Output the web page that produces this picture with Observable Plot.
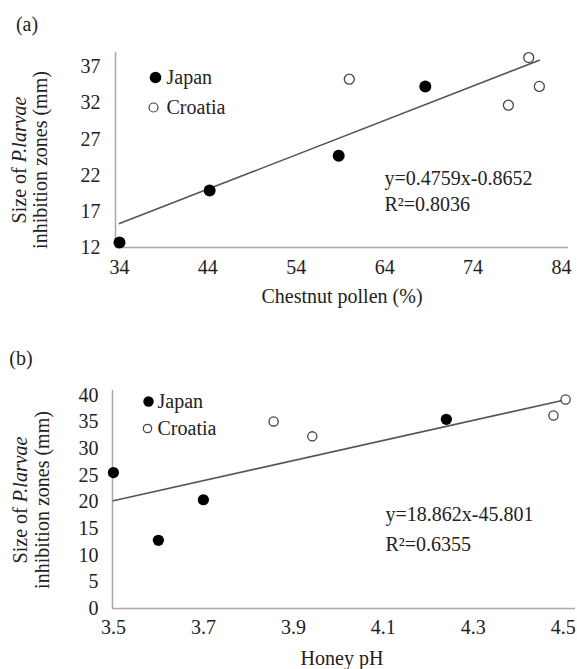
<!DOCTYPE html>
<html><head><meta charset="utf-8">
<script src="https://cdn.jsdelivr.net/npm/d3@7"></script>
<script src="https://cdn.jsdelivr.net/npm/@observablehq/plot@0.6"></script>
<style>
body{margin:0;background:#fff;}
#chart{width:577px;height:669px;position:relative;}
svg{display:block;overflow:visible;}
#chart svg, #chart svg text{font-family:'Liberation Serif','Times New Roman',serif !important;}
</style></head><body><div id="chart"></div>
<script>
const FONT = "Liberation Serif";
const INK = "#222";
const FS = 20;

// ---- Panel (a): chestnut pollen vs inhibition zone ----
const seriesNames = ["Japan", "Croatia"];
const pollenJapan   = [34.0, 44.2, 58.8, 68.6];
const zoneJapanA    = [12.7, 19.9, 24.7, 34.3];
const pollenCroatia = [60.0, 80.3, 81.5, 78.0];
const zoneCroatiaA  = [35.3, 38.3, 34.3, 31.7];
const xTicksA = [34, 44, 54, 64, 74, 84];
const yTicksA = [12, 17, 22, 27, 32, 37];
const slopeA = 0.4759, interceptA = -0.8652, r2A = "0.8036";

// ---- Panel (b): honey pH vs inhibition zone ----
const phJapan   = [3.50, 3.60, 3.70, 4.24];
const zoneJapanB = [25.5, 12.8, 20.4, 35.5];
const phCroatia = [3.856, 3.942, 4.478, 4.505];
const zoneCroatiaB = [35.1, 32.3, 36.2, 39.2];
const xTicksB = [3.5, 3.7, 3.9, 4.1, 4.3, 4.5];
const yTicksB = [0, 5, 10, 15, 20, 25, 30, 35, 40];
const slopeB = 18.862, interceptB = -45.801, r2B = "0.6355";

const toRows = (xs, ys) => xs.map((x, i) => ({x, y: ys[i]}));
const trend = (xs, m, b) => {
  const lo = d3.min(xs), hi = d3.max(xs);
  return [{x: lo, y: m * lo + b}, {x: hi, y: m * hi + b}];
};
const fmtEq = (m, b) => `y=${m}x${b < 0 ? "-" : "+"}${Math.abs(b)}`;

function panel(cfg) {
  const japan = toRows(cfg.xJ, cfg.yJ);
  const croatia = toRows(cfg.xC, cfg.yC);
  const allX = cfg.xJ.concat(cfg.xC);
  const T = {fontFamily: FONT, fontSize: FS, fill: INK};
  const svg = Plot.plot({
    width: 577, height: cfg.height,
    marginLeft: cfg.ml, marginTop: cfg.mt, marginBottom: cfg.mb, marginRight: cfg.mr,
    style: {fontFamily: FONT, fontSize: FS + "px", color: INK, background: "white", overflow: "visible"},
    x: {domain: cfg.xDomain},
    y: {domain: cfg.yDomain},
    marks: [
      Plot.ruleX([cfg.xDomain[0]], {stroke: "#a8a8a8", strokeWidth: 1.5}),
      Plot.ruleY([cfg.yDomain[0]], {stroke: "#a8a8a8", strokeWidth: 1.5}),
      Plot.axisX(cfg.xTicks, {...T, tickSize: 0, tickPadding: cfg.xPad, label: null, tickFormat: cfg.xFmt}),
      Plot.axisY(cfg.yTicks, {...T, tickSize: 0, tickPadding: cfg.yPad, label: null}),
      Plot.line(trend(allX, cfg.m, cfg.b), {x: "x", y: "y", stroke: "#555", strokeWidth: 1.6}),
      Plot.dot(croatia, {x: "x", y: "y", r: cfg.rC, fill: "white", stroke: "#444", strokeWidth: 1.3}),
      Plot.dot(japan, {x: "x", y: "y", r: cfg.rJ, fill: "black"}),
      // legend
      Plot.dot([seriesNames[0]], {frameAnchor: "top-left", dx: cfg.lg.dotJ[0], dy: cfg.lg.dotJ[1], r: cfg.lg.rJ, fill: "black"}),
      Plot.dot([seriesNames[1]], {frameAnchor: "top-left", dx: cfg.lg.dotC[0], dy: cfg.lg.dotC[1], r: cfg.lg.rC, fill: "white", stroke: "#444", strokeWidth: 1.2}),
      Plot.text([seriesNames[0]], {...T, text: d => d, frameAnchor: "top-left", dx: cfg.lg.tx, dy: cfg.lg.dotJ[1], textAnchor: "start", lineAnchor: "middle"}),
      Plot.text([seriesNames[1]], {...T, text: d => d, frameAnchor: "top-left", dx: cfg.lg.tx, dy: cfg.lg.dotC[1], textAnchor: "start", lineAnchor: "middle"}),
      // equation
      Plot.text([fmtEq(cfg.m, cfg.b)], {...T, text: d => d, frameAnchor: "top-left", dx: cfg.eq[0], dy: cfg.eq[1], textAnchor: "start", lineAnchor: "bottom"}),
      Plot.text([`R²=${cfg.r2}`], {...T, text: d => d, frameAnchor: "top-left", dx: cfg.eq[0], dy: cfg.eq[2], textAnchor: "start", lineAnchor: "bottom"})
    ]
  });
  const s = d3.select(svg);
  const txt = () => s.append("text").attr("fill", INK).attr("font-size", FS).attr("font-family", FONT);
  txt().attr("x", cfg.tag[0]).attr("y", cfg.tag[1]).text(cfg.tagText);
  txt().attr("x", cfg.xt[0]).attr("y", cfg.xt[1]).attr("text-anchor", "middle").text(cfg.xTitle);
  const t1 = txt().attr("transform", `translate(${cfg.yt[0]},${cfg.yt[2]}) rotate(-90)`).attr("text-anchor", "middle");
  t1.append("tspan").text("Size of ");
  t1.append("tspan").attr("font-style", "italic").text("P.larvae");
  txt().attr("transform", `translate(${cfg.yt[1]},${cfg.yt[2]}) rotate(-90)`).attr("text-anchor", "middle").text("inhibition zones (mm)");
  return svg;
}

const root = document.getElementById("chart");
root.appendChild(panel({
  height: 330, ml: 115, mt: 52, mb: 83, mr: 9,
  xDomain: [33.55, 84.8], yDomain: [12, 39],
  xTicks: xTicksA, yTicks: yTicksA, xFmt: d3.format("d"), xPad: 12, yPad: 15,
  xJ: pollenJapan, yJ: zoneJapanA, xC: pollenCroatia, yC: zoneCroatiaA,
  m: slopeA, b: interceptA, r2: r2A, rJ: 6, rC: 5,
  lg: {dotJ: [40, 25], dotC: [38, 55], rJ: 5.8, rC: 4.5, tx: 51},
  eq: [269, 132, 158],
  tag: [27, 31], tagText: "(a)",
  xt: [342, 303], xTitle: "Chestnut pollen (%)",
  yt: [26, 47, 160]
}));
root.appendChild(panel({
  height: 339, ml: 112, mt: 60, mb: 61, mr: 2,
  xDomain: [3.498, 4.527], yDomain: [0, 40.9],
  xTicks: xTicksB, yTicks: yTicksB, xFmt: d3.format(".1f"), xPad: 11, yPad: 14,
  xJ: phJapan, yJ: zoneJapanB, xC: phCroatia, yC: zoneCroatiaB,
  m: slopeB, b: interceptB, r2: r2B, rJ: 5.6, rC: 4.6,
  lg: {dotJ: [36, 11], dotC: [35, 38], rJ: 5.2, rC: 4.2, tx: 45},
  eq: [273, 130, 160],
  tag: [21, 35], tagText: "(b)",
  xt: [342, 335], xTitle: "Honey pH",
  yt: [27, 49, 170]
}));
</script></body></html>
